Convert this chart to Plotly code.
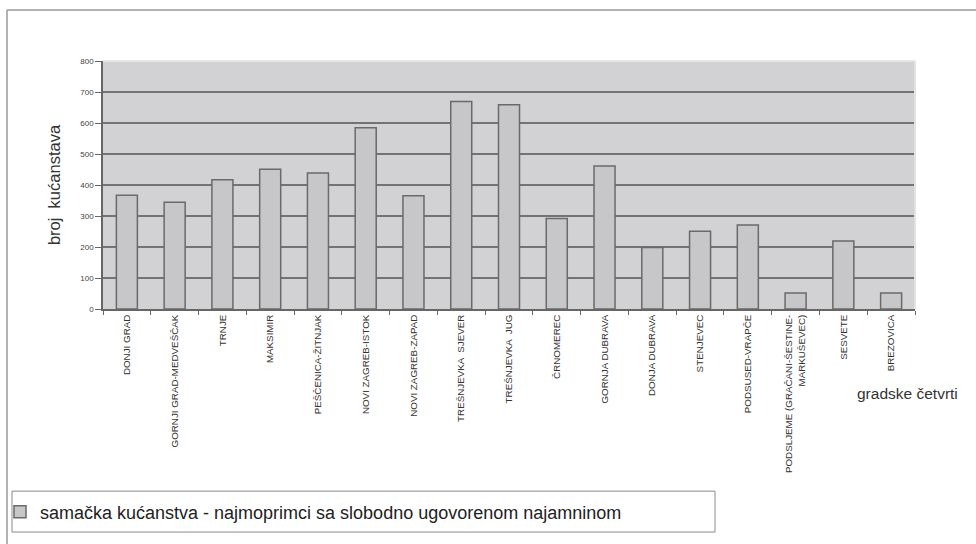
import plotly.graph_objects as go

categories = [
    "DONJI GRAD", "GORNJI GRAD-MEDVEŠČAK", "TRNJE", "MAKSIMIR", "PEŠČENICA-ŽITNJAK",
    "NOVI ZAGREB-ISTOK", "NOVI ZAGREB-ZAPAD", "TREŠNJEVKA  SJEVER", "TREŠNJEVKA  JUG",
    "ČRNOMEREC", "GORNJA DUBRAVA", "DONJA DUBRAVA", "STENJEVEC", "PODSUSED-VRAPČE",
    "PODSLJEME (GRAČANI-ŠESTINE-<br>MARKUŠEVEC)", "SESVETE", "BREZOVICA",
]
values = [367, 344, 417, 451, 439, 585, 365, 669, 659, 292, 461, 198, 251, 271, 52, 219, 52]
series_name = "samačka kućanstva - najmoprimci sa slobodno ugovorenom najamninom"
y_title = "broj  kućanstava"
x_title = "gradske četvrti"
y_ticks = [0, 100, 200, 300, 400, 500, 600, 700, 800]

W, H = 976, 544
L, R, T, B = 103, 915, 61, 309.5


def px_x(p):
    return (p - L) / (R - L)


def px_y(p):
    return (B - p) / (B - T)


fig = go.Figure()
fig.add_trace(go.Bar(
    x=categories, y=values, name=series_name,
    marker=dict(color="#c7c7c9", line=dict(color="#6a6a6a", width=1.5)),
    width=0.44,
))

font = "Liberation Sans, Arial, sans-serif"
fig.update_layout(
    width=W, height=H,
    margin=dict(l=L, r=W - R, t=T, b=H - B, pad=0),
    paper_bgcolor="white",
    plot_bgcolor="#d2d2d4",
    font=dict(family=font, color="#333333"),
    showlegend=True,
    legend=dict(
        orientation="h", xref="container", yref="container",
        x=0.0, y=(H - 512) / H, xanchor="left", yanchor="middle",
        font=dict(size=18, color="#222222", family=font),
        bgcolor="rgba(0,0,0,0)",
    ),
    xaxis=dict(
        type="category", tickangle=-90, tickfont=dict(size=9.8, color="#333333"),
        showline=True, linecolor="#666666", linewidth=1.5,
        ticks="outside", tickson="boundaries", ticklen=4, tickcolor="#666666",
        showgrid=False, automargin=False,
    ),
    yaxis=dict(
        range=[0, 800], tickvals=y_ticks, tickfont=dict(size=8, color="#444444"),
        showline=True, linecolor="#666666", linewidth=1.5,
        ticks="outside", ticklen=6, tickcolor="#666666",
        showgrid=True, gridcolor="#737373", gridwidth=1.5,
        zeroline=False, automargin=False,
        title=dict(text=y_title, font=dict(size=16.5, color="#333333"), standoff=16),
    ),
    annotations=[
        dict(text=x_title, x=px_x(907), y=px_y(405), xref="paper", yref="paper",
             showarrow=False, font=dict(size=15.5, color="#333333"), xanchor="center"),
    ],
    shapes=[
        dict(type="line", xref="paper", yref="paper", x0=0, x1=1, y0=1, y1=1,
             line=dict(color="#e6e6e6", width=2), layer="above"),
        dict(type="line", xref="paper", yref="paper", x0=1, x1=1, y0=0, y1=1,
             line=dict(color="#e2e2e2", width=2), layer="above"),
        dict(type="line", xref="paper", yref="paper", x0=px_x(7), x1=px_x(7),
             y0=px_y(10), y1=px_y(560), line=dict(color="#9a9a9a", width=1.5)),
        dict(type="line", xref="paper", yref="paper", x0=px_x(7), x1=px_x(990),
             y0=px_y(10), y1=px_y(10), line=dict(color="#9a9a9a", width=1.5)),
        dict(type="rect", xref="paper", yref="paper", x0=px_x(12), x1=px_x(715),
             y0=px_y(492), y1=px_y(533), line=dict(color="#8a8a8a", width=1)),
    ],
)

fig.write_html("out.html", config={"displayModeBar": False},
               post_script="document.body.style.margin='0';")
